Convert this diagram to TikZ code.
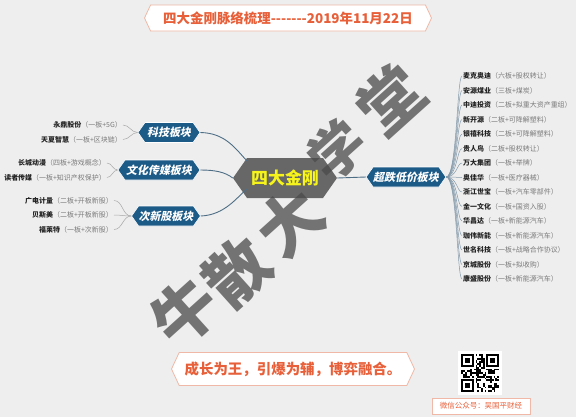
\documentclass[tikz,border=0pt]{standalone}
\usepackage{fontspec}
\setmainfont{Noto Sans CJK SC}
\newfontfamily\slfont{Noto Sans CJK SC}[FakeSlant=0.2]
\usetikzlibrary{shapes.symbols}
\definecolor{bgc}{HTML}{EEEEEE}
\definecolor{titlec}{HTML}{E8603A}
\definecolor{bannerline}{HTML}{F0B8A6}
\definecolor{nodeblue}{HTML}{1C5B87}
\definecolor{hubc}{HTML}{5C5C5C}
\definecolor{hubtext}{HTML}{F6F41A}
\definecolor{linkc}{HTML}{4E6E86}
\definecolor{twigc}{HTML}{A8A8A8}
\definecolor{namec}{HTML}{222222}
\definecolor{parc}{HTML}{7A7A7A}
\definecolor{wmc}{HTML}{4A4A4A}
\newcommand\stkitem[2]{\textbf{\color{namec}#1}{\color{parc}（#2）}}
\begin{document}
\begin{tikzpicture}[x=1bp,y=-1bp,
  banner/.style={signal, signal to=east and west, signal pointer angle=130,
    draw=bannerline, line width=0.8bp, fill=white, inner sep=0, text=titlec},
  branch/.style={signal, signal to=east and west, signal pointer angle=110,
    fill=nodeblue, draw=white, line width=0.6bp, text=white, inner sep=0,
    minimum height=20bp, font=\slfont\bfseries\fontsize{11}{12}\selectfont},
  hub/.style={signal, signal to=east and west, signal pointer angle=110,
    fill=hubc, fill opacity=0.92, text opacity=1, text=hubtext, inner sep=0,
    font=\bfseries\fontsize{17}{18}\selectfont},
  leafL/.style={anchor=east, inner sep=1bp, font=\fontsize{7}{8}\selectfont},
  leafR/.style={anchor=west, inner sep=1bp, font=\fontsize{7}{8}\selectfont},
  link/.style={draw=linkc, line width=0.9bp},
  twig/.style={draw=twigc, line width=0.5bp},
  wm/.style={text=wmc, opacity=0.75, inner sep=0, rotate=42,
    font=\bfseries\fontsize{64}{64}\selectfont}]
\useasboundingbox (0,0) rectangle (576,417);
\fill[bgc] (0,0) rectangle (576,417);

% title
\node[banner, minimum width=287bp, minimum height=26bp,
  font=\bfseries\fontsize{13.5}{14}\selectfont] (title) at (288,18)
  {四大金刚脉络梳理-{}-{}-{}-{}-{}-{}-2019年11月22日};

% hub and branches
\node[hub, minimum width=104bp, minimum height=40bp] (hub) at (285,178) {四大金刚};
\node[branch, minimum width=62bp] (keji) at (169,132.5) {科技板块};
\node[branch, minimum width=82bp] (wenhua) at (159,170) {文化传媒板块};
\node[branch, minimum width=65bp] (cixin) at (166,216) {次新股板块};
\node[branch, minimum width=72bp] (chaodie) at (406,177) {超跌低价板块};

\draw[link] (keji.east) .. controls (225,133) and (235,148) .. (247,161);
\draw[link] (wenhua.east) .. controls (215,170) and (225,172) .. (hub.west);
\draw[link] (cixin.east) .. controls (225,215) and (237,197) .. (247,189);
\draw[link] (hub.east) -- (chaodie.west);

% left leaves
\node[leafL] (l1) at (123,125) {\stkitem{永鼎股份}{一板+5G}};
\node[leafL] (l2) at (123,139.5) {\stkitem{天夏智慧}{一板+区块链}};
\node[leafL] (l3) at (107,163) {\stkitem{长城动漫}{四板+游戏概念}};
\node[leafL] (l4) at (107,177.5) {\stkitem{读者传媒}{一板+知识产权保护}};
\node[leafL] (l5) at (114,200.5) {\stkitem{广电计量}{二板+开板新股}};
\node[leafL] (l6) at (114,215) {\stkitem{贝斯美}{二板+开板新股}};
\node[leafL] (l7) at (114,229.5) {\stkitem{福莱特}{一板+次新股}};
\foreach \a/\b in {l1/keji,l2/keji,l3/wenhua,l4/wenhua,l5/cixin,l6/cixin,l7/cixin}
  \draw[twig] (\a.east) to[out=0,in=180] (\b.west);

% right leaves
\foreach \n/\nm/\pr [count=\k from 0] in {
  r1/麦克奥迪/六板+股权转让,
  r2/安源煤业/三板+煤炭,
  r3/中迪投资/二板+拟重大资产重组,
  r4/新开源/二板+可降解塑料,
  r5/银禧科技/二板+可降解塑料,
  r6/贵人鸟/二板+股权转让,
  r7/万大集团/一板+举牌,
  r8/奥佳华/一板+医疗器械,
  r9/浙江世宝/一板+汽车零部件,
  r10/金一文化/一板+国资入股,
  r11/华昌达/一板+新能源汽车,
  r12/珈伟新能/一板+新能源汽车,
  r13/世名科技/一板+战略合作协议,
  r14/京城股份/一板+拟收购,
  r15/康盛股份/一板+新能源汽车}{
  \node[leafR] (\n) at (462,76+14.5*\k) {\stkitem{\nm}{\pr}};
  \draw[twig, draw=linkc!70] (chaodie.east) .. controls (457,177) and (457,76+14.5*\k) .. (\n.west);
}

% slogan
\node[banner, minimum width=243bp, minimum height=33bp,
  font=\bfseries\fontsize{14.5}{15}\selectfont] (slogan) at (293,369)
  {成长为王，引爆为辅，博弈融合。};

% QR code
\node[fill=white, minimum size=44bp, inner sep=0] (qr) at (480,373) {};
\pgfmathsetseed{11}
\foreach \i in {0,...,20}{
  \foreach \j in {0,...,20}{
    \pgfmathtruncatemacro\rr{rnd>0.5?1:0}
    \ifnum\rr=1
      \fill[black] (461.1+\i*1.8,354.1+\j*1.8) rectangle ++(1.8,1.8);
    \fi
  }
}
\foreach \x/\y/\cx/\cy in {461.1/354.1/461.1/354.1, 486.3/354.1/484.5/354.1, 461.1/379.3/461.1/377.5}{
  \fill[white] (\cx,\cy) rectangle ++(14.4,14.4);
  \fill[black] (\x,\y) rectangle ++(12.6,12.6);
  \fill[white] (\x+1.8,\y+1.8) rectangle ++(9,9);
  \fill[black] (\x+3.6,\y+3.6) rectangle ++(5.4,5.4);
}
\node[draw=bannerline, line width=0.8bp, fill=white, minimum width=98bp,
  minimum height=16bp, inner sep=0, text=titlec,
  font=\fontsize{7.5}{8}\selectfont] (wx) at (481,406) {微信公众号：吴国平财经};

% watermark
\node[wm] (w1) at (185,312) {牛};
\node[wm] (w2) at (237,272) {散};
\node[wm] (w3) at (290,222) {大};
\node[wm, font=\bfseries\fontsize{56}{56}\selectfont] (w4) at (337,150) {学};
\node[wm] (w5) at (390,100) {堂};
\end{tikzpicture}
\end{document}
